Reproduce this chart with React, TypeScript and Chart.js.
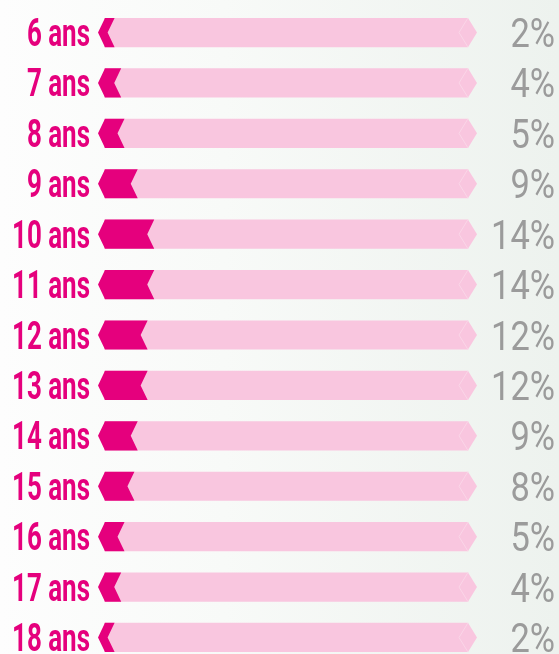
import React, { useEffect, useRef } from "react";
import { Chart, registerables } from "chart.js";

Chart.register(...registerables);

const categories = ["6 ans", "7 ans", "8 ans", "9 ans", "10 ans", "11 ans", "12 ans", "13 ans", "14 ans", "15 ans", "16 ans", "17 ans", "18 ans"];
const shares = [2, 4, 5, 9, 14, 14, 12, 12, 9, 8, 5, 4, 2];
const pctLabels = ["2%", "4%", "5%", "9%", "14%", "14%", "12%", "12%", "9%", "8%", "5%", "4%", "2%"];
const TRACK_MAX = 109;
const track = categories.map(() => TRACK_MAX);

const DARK = "#E5007D";
const LIGHT = "#F9C6DF";
const LIGHT_LINE = "#FBD6E8";
const GRAY = "#9B9B9B";

const LEFT_FONT = "bold 39px Roboto, 'DejaVu Sans Condensed', sans-serif";
const RIGHT_FONT = "400 41px Roboto, sans-serif";

const shapesPlugin = {
  id: "shapes",
  afterDatasetsDraw(chart: any) {
    const ctx = chart.ctx;
    const trackMeta = chart.getDatasetMeta(1);
    const valMeta = chart.getDatasetMeta(0);
    ctx.save();
    trackMeta.data.forEach((el: any) => {
      const top = el.y - el.height / 2;
      const bot = el.y + el.height / 2;
      const left = el.base - 4;
      const right = el.x;
      const tip = 9;
      ctx.fillStyle = LIGHT;
      ctx.beginPath();
      ctx.moveTo(left, top);
      ctx.lineTo(right, top);
      ctx.lineTo(right + tip, el.y);
      ctx.lineTo(right, bot);
      ctx.lineTo(left, bot);
      ctx.closePath();
      ctx.fill();
      ctx.strokeStyle = LIGHT_LINE;
      ctx.lineWidth = 1;
      ctx.beginPath();
      ctx.moveTo(right, top);
      ctx.lineTo(right - tip, el.y);
      ctx.lineTo(right, bot);
      ctx.stroke();
    });
    valMeta.data.forEach((el: any) => {
      const top = el.y - el.height / 2;
      const bot = el.y + el.height / 2;
      const base = el.base;
      const end = el.x;
      ctx.fillStyle = DARK;
      ctx.beginPath();
      ctx.moveTo(base - 3, top);
      ctx.lineTo(end, top);
      ctx.lineTo(end - 7, el.y);
      ctx.lineTo(end, bot);
      ctx.lineTo(base - 3, bot);
      ctx.lineTo(base - 10, el.y);
      ctx.closePath();
      ctx.fill();
    });
    ctx.restore();
  },
  afterDraw(chart: any) {
    const ctx = chart.ctx;
    const yScale = chart.scales.y;
    ctx.save();
    ctx.font = LEFT_FONT;
    const sxLeft = 78 / ctx.measureText("10 ans").width;
    ctx.font = RIGHT_FONT;
    const sxRight = 64 / ctx.measureText("14%").width;
    categories.forEach((label, i) => {
      const y = yScale.getPixelForValue(i);
      ctx.save();
      ctx.fillStyle = DARK;
      ctx.font = LEFT_FONT;
      ctx.textAlign = "right";
      ctx.textBaseline = "alphabetic";
      ctx.translate(90, y + 13.5);
      ctx.scale(sxLeft, 1);
      ctx.fillText(label, 0, 0);
      ctx.restore();

      ctx.save();
      ctx.fillStyle = GRAY;
      ctx.font = RIGHT_FONT;
      ctx.textAlign = "right";
      ctx.textBaseline = "alphabetic";
      ctx.translate(555, y + 14.5);
      ctx.scale(sxRight, 1);
      ctx.fillText(pctLabels[i], 0, 0);
      ctx.restore();
    });
    ctx.restore();
  },
};

export default function App() {
  const ref = useRef<HTMLCanvasElement | null>(null);
  useEffect(() => {
    if (!ref.current) return;
    const chart = new Chart(ref.current, {
      type: "bar",
      data: {
        labels: categories,
        datasets: [
          {
            label: "Part",
            data: shares,
            backgroundColor: "rgba(0,0,0,0)",
            borderWidth: 0,
            categoryPercentage: 1,
            barPercentage: 0.58,
          },
          {
            label: "Piste",
            data: track,
            backgroundColor: "rgba(0,0,0,0)",
            borderWidth: 0,
            categoryPercentage: 1,
            barPercentage: 0.58,
          },
        ],
      },
      options: {
        indexAxis: "y",
        animation: false,
        responsive: true,
        maintainAspectRatio: false,
        grouped: false,
        layout: { padding: { left: 108, right: 91, top: 7.3, bottom: 7.3 } },
        scales: {
          x: { display: false, min: 0, max: TRACK_MAX },
          y: { display: false },
        },
        plugins: { legend: { display: false }, tooltip: { enabled: false } },
      } as any,
      plugins: [shapesPlugin],
    });
    return () => chart.destroy();
  }, []);
  return (
    <div
      style={{
        position: "fixed",
        left: 0,
        top: 0,
        width: 559,
        height: 670,
        background: "linear-gradient(90deg, #fdfdfd 0%, #f8faf8 40%, #edf2ee 100%)",
      }}
    >
      <canvas ref={ref} />
    </div>
  );
}
